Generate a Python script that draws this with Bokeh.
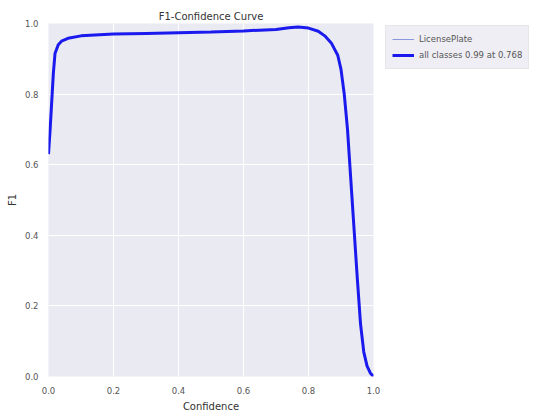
from bokeh.plotting import figure
from bokeh.models import Range1d, Legend, LegendItem, FixedTicker, PrintfTickFormatter
from bokeh.embed import file_html
from bokeh.resources import INLINE

confidence = [0, 0.005, 0.01, 0.015, 0.02, 0.03, 0.04, 0.06, 0.1, 0.2, 0.3, 0.4, 0.5, 0.6, 0.7,
              0.74, 0.768, 0.8, 0.83, 0.85, 0.87, 0.89, 0.9, 0.91, 0.92, 0.93, 0.94, 0.95,
              0.96, 0.97, 0.98, 0.99, 1.0]
f1_license = [0.63, 0.70, 0.78, 0.86, 0.915, 0.94, 0.95, 0.958, 0.965, 0.970, 0.972, 0.974,
              0.976, 0.979, 0.983, 0.988, 0.99, 0.987, 0.978, 0.965, 0.945, 0.91, 0.87, 0.80,
              0.70, 0.56, 0.42, 0.28, 0.15, 0.07, 0.03, 0.01, 0.0]
f1_all = list(f1_license)
ticks = [0.0, 0.2, 0.4, 0.6, 0.8, 1.0]
class_label = "LicensePlate"
all_label = "all classes 0.99 at 0.768"

FONT = "DejaVu Sans"

p = figure(frame_width=325, frame_height=353, output_backend="svg", toolbar_location=None,
           x_range=Range1d(0, 1), y_range=Range1d(0, 1),
           min_border_left=48, min_border_right=0, min_border_top=23, min_border_bottom=40,
           title="F1-Confidence Curve")
p.title.align = "center"
p.title.text_font = FONT
p.title.text_font_size = "10px"
p.title.text_font_style = "normal"
p.title.text_color = "#333333"
p.title.offset = 0
p.title.standoff = 4

p.background_fill_color = "#EAEAF2"
p.border_fill_color = "white"
p.outline_line_color = None

for ax in (p.xaxis, p.yaxis):
    ax.ticker = FixedTicker(ticks=ticks)
    ax.formatter = PrintfTickFormatter(format="%.1f")
    ax.axis_line_color = None
    ax.major_tick_line_color = None
    ax.minor_tick_line_color = None
    ax.major_label_text_font = FONT
    ax.major_label_text_font_size = "8.5px"
    ax.major_label_text_color = "#555555"
    ax.axis_label_text_font = FONT
    ax.axis_label_text_font_size = "10px"
    ax.axis_label_text_font_style = "normal"
    ax.axis_label_text_color = "#333333"
    ax.major_label_standoff = 4
    ax.axis_label_standoff = 4
p.xaxis.axis_label = "Confidence"
p.yaxis.axis_label = "F1"
p.yaxis.major_label_orientation = "horizontal"

p.xgrid.ticker = FixedTicker(ticks=ticks)
p.ygrid.ticker = FixedTicker(ticks=ticks)
p.grid.grid_line_color = "white"
p.grid.grid_line_width = 1

r1 = p.line(confidence, f1_license, line_width=1, line_color="#8a97dc")
r2 = p.line(confidence, f1_all, line_width=3, line_color="#1a1aee")

legend = Legend(items=[LegendItem(label=class_label, renderers=[r1]),
                       LegendItem(label=all_label, renderers=[r2])],
                location=(12, 307))
legend.label_text_font = FONT
legend.label_text_font_size = "8.5px"
legend.label_text_color = "#555555"
legend.background_fill_color = "#EEEEF4"
legend.background_fill_alpha = 1.0
legend.border_line_color = "#dddddd"
legend.glyph_width = 22
legend.glyph_height = 14
legend.label_height = 14
legend.spacing = 2
legend.padding = 6
legend.margin = 6
p.add_layout(legend, "right")

open("out.html", "w").write(file_html(p, INLINE))
